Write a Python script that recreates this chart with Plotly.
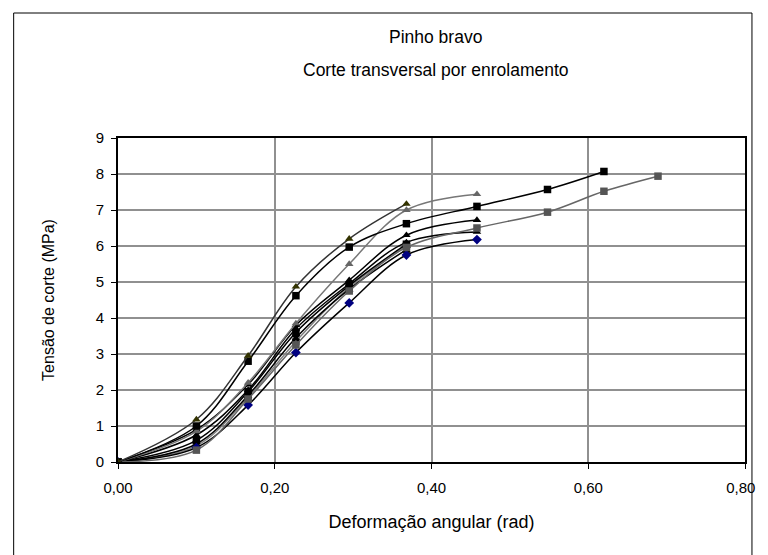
import plotly.graph_objects as go

W, H = 768, 555
L, R, T, B = 110, 27, 130, 101

x_base = [0, 0.1, 0.166, 0.227, 0.295, 0.368, 0.458]
x_long = x_base + [0.548, 0.62]
x_longest = x_base + [0.548, 0.62, 0.689]

s1 = [0, 1.18, 2.95, 4.87, 6.2, 7.17]
s2 = [0, 1.0, 2.8, 4.62, 5.97, 6.62, 7.10, 7.57, 8.07]
s3 = [0, 0.85, 2.2, 3.85, 5.5, 7.0, 7.44]
s4 = [0, 0.33, 1.75, 3.25, 4.75, 5.96, 6.5, 6.94, 7.52, 7.94]
s5 = [0, 0.4, 1.58, 3.04, 4.42, 5.75, 6.18]
s6 = [0, 0.9, 2.15, 3.8, 5.05, 6.3, 6.72]
s7 = [0, 0.75, 2.0, 3.7, 4.95, 6.1, 6.39]
s8 = [0, 0.6, 1.95, 3.6, 4.9, 6.05]
s9 = [0, 0.5, 1.85, 3.45, 4.8, 5.9]
s10 = [0, 0.45, 1.8, 3.35, 4.85, 6.0]

x_ticks = [0, 0.2, 0.4, 0.6, 0.8]
x_labels = ["0,00", "0,20", "0,40", "0,60", "0,80\u00a0\u00a0"]
y_ticks = list(range(0, 10))

title_lines = ["Pinho bravo", "Corte transversal por enrolamento"]
x_title = "Deformação angular (rad)"
y_title = "Tensão de corte (MPa)"

series = [
    (x_base, s10, "#808080", "#666666", "square"),
    (x_base, s9, "#000000", "#000000", "x"),
    (x_base, s8, "#000000", "#000000", "square"),
    (x_base, s7, "#000000", "#000000", "triangle-up"),
    (x_base, s6, "#000000", "#000000", "triangle-up"),
    (x_base, s5, "#000000", "#000080", "diamond"),
    (x_longest, s4, "#666666", "#555555", "square"),
    (x_base, s3, "#777777", "#666666", "triangle-up"),
    (x_long, s2, "#000000", "#000000", "square"),
    (x_base, s1, "#333333", "#333300", "triangle-up"),
]

fig = go.Figure()
for xs, ys, lc, mc, sym in series:
    fig.add_trace(go.Scatter(
        x=xs[:len(ys)], y=ys, mode="lines+markers",
        line=dict(color=lc, width=1.5, shape="spline", smoothing=1.0),
        marker=dict(symbol=sym, size=7.5, color=mc, line=dict(width=0)),
        showlegend=False, hoverinfo="x+y"))

font = "Liberation Sans, Arial, sans-serif"
fig.update_layout(
    width=W, height=H,
    margin=dict(l=L, r=R, t=T, b=B),
    paper_bgcolor="white", plot_bgcolor="white",
    font=dict(family=font, size=15, color="black"),
    xaxis=dict(range=[0, 0.8], tickvals=x_ticks, ticktext=x_labels,
               showgrid=True, gridcolor="#909090", gridwidth=1.5,
               showline=True, linecolor="black", linewidth=2, mirror=True,
               ticks="outside", ticklen=5, tickcolor="black",
               ticklabelstandoff=6,
               zeroline=False, fixedrange=True,
               title=dict(text=x_title, standoff=20, font=dict(size=18))),
    yaxis=dict(range=[0, 9], tickvals=y_ticks,
               showgrid=True, gridcolor="#909090", gridwidth=1.5,
               showline=True, linecolor="black", linewidth=2, mirror=True,
               ticks="outside", ticklen=5, tickcolor="black",
               ticklabelstandoff=4,
               zeroline=False, fixedrange=True,
               title=dict(text=y_title, standoff=37, font=dict(size=16))),
)

pw, ph = W - L - R, H - T - B
def px(v):
    return (v - L) / pw
def py(v):
    return (H - B - v) / ph

for txt, ypix in zip(title_lines, [29, 62]):
    fig.add_annotation(text=txt, xref="paper", yref="paper",
                       x=px(430), y=py(ypix), xanchor="center",
                       yanchor="middle", showarrow=False,
                       font=dict(size=17.5, family=font, color="black"))

fig.add_shape(type="rect", xref="paper", yref="paper",
              x0=px(5), x1=px(748), y0=py(556), y1=py(5),
              line=dict(color="black", width=1), fillcolor="rgba(0,0,0,0)")

fig.write_html("out.html")
